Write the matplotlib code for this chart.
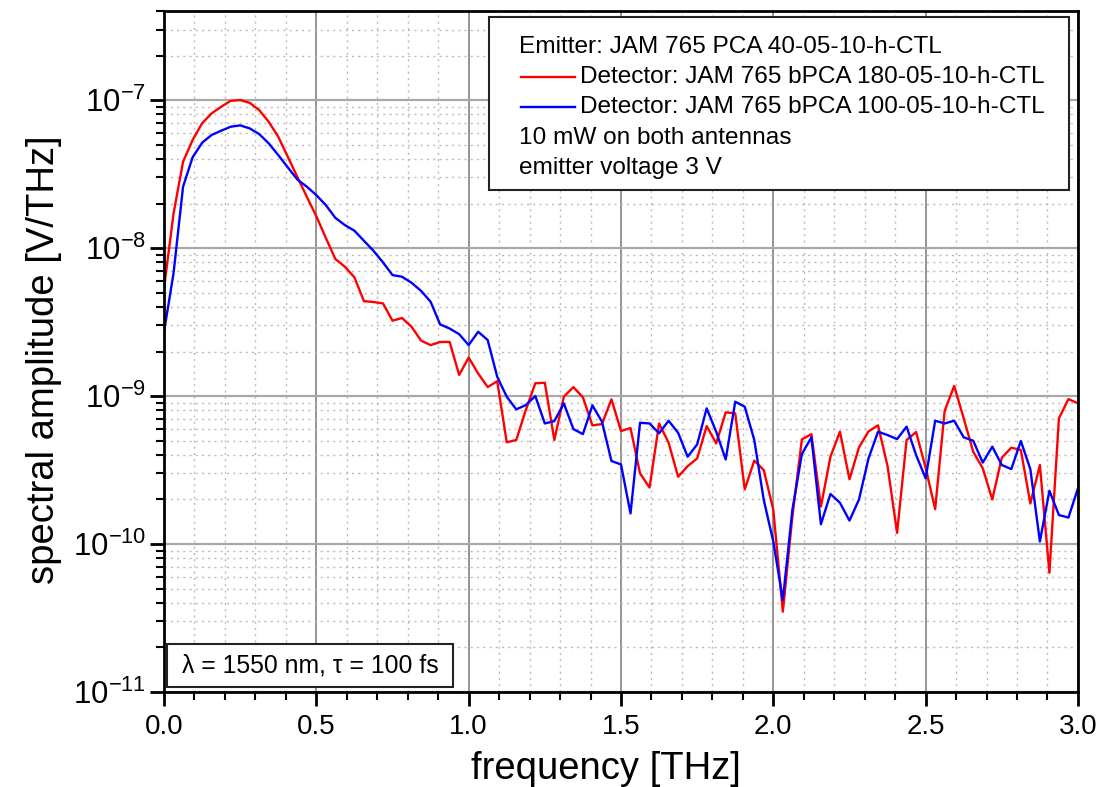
import numpy as np
import matplotlib
matplotlib.use("Agg")
import matplotlib.pyplot as plt
from matplotlib.ticker import MultipleLocator, LogLocator, FormatStrFormatter, NullFormatter
from matplotlib.patches import Rectangle
from matplotlib.lines import Line2D

plt.rcParams['font.family'] = ['Liberation Sans', 'DejaVu Sans']
plt.rcParams['mathtext.fontset'] = 'custom'
plt.rcParams['mathtext.rm'] = 'Liberation Sans'
plt.rcParams['mathtext.it'] = 'Liberation Sans:italic'
plt.rcParams['mathtext.bf'] = 'Liberation Sans:bold'

# frequency grid: step 1/32 THz, 0 .. 3 THz
freq = np.arange(97) / 32.0

# spectral amplitude [V/THz]
red_amp = [
    5.35e-9, 1.71e-8, 3.83e-8, 5.37e-8, 6.97e-8, 8.13e-8, 9.02e-8, 9.89e-8,
    1.00e-7, 9.59e-8, 8.56e-8, 7.13e-8, 5.65e-8, 4.14e-8, 3.03e-8, 2.22e-8,
    1.64e-8, 1.17e-8, 8.43e-9, 7.48e-9, 6.34e-9, 4.38e-9, 4.32e-9, 4.23e-9,
    3.23e-9, 3.37e-9, 2.94e-9, 2.37e-9, 2.21e-9, 2.32e-9, 2.32e-9, 1.39e-9,
    1.82e-9, 1.42e-9, 1.15e-9, 1.26e-9, 4.87e-10, 5.05e-10, 8.04e-10, 1.22e-9,
    1.23e-9, 5.05e-10, 9.90e-10, 1.15e-9, 9.80e-10, 6.33e-10, 6.47e-10, 9.50e-10,
    5.80e-10, 6.08e-10, 3.00e-10, 2.41e-10, 6.53e-10, 4.84e-10, 2.85e-10, 3.36e-10,
    3.79e-10, 6.27e-10, 4.79e-10, 7.76e-10, 7.64e-10, 2.34e-10, 3.66e-10, 3.16e-10,
    1.70e-10, 3.49e-11, 1.53e-10, 5.10e-10, 5.53e-10, 1.79e-10, 3.89e-10, 5.74e-10,
    2.74e-10, 4.50e-10, 5.77e-10, 6.34e-10, 3.36e-10, 1.19e-10, 5.05e-10, 5.71e-10,
    3.27e-10, 1.72e-10, 7.96e-10, 1.17e-9, 7.07e-10, 4.20e-10, 3.25e-10, 2.00e-10,
    3.83e-10, 4.48e-10, 4.32e-10, 1.88e-10, 3.42e-10, 6.40e-11, 7.07e-10, 9.54e-10,
    8.92e-10,
]

blue_amp = [
    2.72e-9, 6.75e-9, 2.60e-8, 4.10e-8, 5.15e-8, 5.81e-8, 6.21e-8, 6.61e-8,
    6.75e-8, 6.44e-8, 5.89e-8, 5.10e-8, 4.25e-8, 3.51e-8, 2.91e-8, 2.60e-8,
    2.28e-8, 1.95e-8, 1.60e-8, 1.43e-8, 1.31e-8, 1.12e-8, 9.59e-9, 8.00e-9,
    6.57e-9, 6.40e-9, 5.83e-9, 5.14e-9, 4.34e-9, 3.05e-9, 2.86e-9, 2.62e-9,
    2.21e-9, 2.72e-9, 2.39e-9, 1.35e-9, 9.90e-10, 8.13e-10, 8.69e-10, 1.00e-9,
    6.53e-10, 6.77e-10, 8.92e-10, 5.98e-10, 5.53e-10, 8.65e-10, 6.71e-10, 3.64e-10,
    3.45e-10, 1.61e-10, 6.60e-10, 6.53e-10, 5.60e-10, 6.81e-10, 5.65e-10, 3.89e-10,
    4.71e-10, 8.26e-10, 5.74e-10, 3.73e-10, 9.16e-10, 8.47e-10, 5.05e-10, 1.98e-10,
    1.04e-10, 4.19e-11, 1.70e-10, 4.06e-10, 5.26e-10, 1.36e-10, 2.18e-10, 1.90e-10,
    1.44e-10, 2.00e-10, 3.79e-10, 5.74e-10, 5.45e-10, 5.12e-10, 6.21e-10, 3.99e-10,
    2.78e-10, 6.81e-10, 6.53e-10, 6.81e-10, 5.26e-10, 4.99e-10, 3.55e-10, 4.55e-10,
    3.42e-10, 3.21e-10, 4.97e-10, 3.20e-10, 1.04e-10, 2.29e-10, 1.57e-10, 1.51e-10,
    2.38e-10,
]

legend_lines = [
    "Emitter: JAM 765 PCA 40-05-10-h-CTL",
    "Detector: JAM 765 bPCA 180-05-10-h-CTL",
    "Detector: JAM 765 bPCA 100-05-10-h-CTL",
    "10 mW on both antennas",
    "emitter voltage 3 V",
]
info_text = "\u03bb = 1550 nm, \u03c4 = 100 fs"

fig = plt.figure(figsize=(11.03, 7.87), dpi=100)
ax = fig.add_axes([0.1487, 0.1207, 0.8286, 0.8653])

ax.plot(freq, red_amp, color='#ff0000', lw=1.7, zorder=3)
ax.plot(freq, blue_amp, color='#0000ff', lw=1.7, zorder=3)

ax.set_yscale('log')
ax.set_xlim(0, 3.0)
ax.set_ylim(1e-11, 4e-7)

ax.xaxis.set_major_locator(MultipleLocator(0.5))
ax.xaxis.set_minor_locator(MultipleLocator(0.1))
ax.xaxis.set_major_formatter(FormatStrFormatter('%.1f'))
ax.yaxis.set_major_locator(LogLocator(base=10, numticks=20))
ax.yaxis.set_minor_locator(LogLocator(base=10, subs=np.arange(2, 10), numticks=20))
ax.yaxis.set_minor_formatter(NullFormatter())

ax.grid(True, which='major', axis='x', color='#8c8c8c', lw=1.3, ls='-', zorder=0)
ax.grid(True, which='major', axis='y', color='#a8a8a8', lw=1.6, ls='-', zorder=0)
ax.grid(True, which='minor', color='#bbbbbb', lw=1.0, ls=(0, (1.5, 3)), zorder=0)

ax.tick_params(which='major', direction='out', length=10, width=2)
ax.tick_params(which='minor', direction='out', length=6, width=1.5)
ax.tick_params(axis='x', which='major', labelsize=20, pad=6)
ax.tick_params(axis='y', which='major', labelsize=22.5, pad=3)
ax.tick_params(top=False, right=False)
for s in ax.spines.values():
    s.set_linewidth(2)
    s.set_zorder(5)

ax.set_xlabel('frequency [THz]', fontsize=27.5)
ax.set_ylabel('spectral amplitude [V/THz]', fontsize=27.5)
ax.xaxis.set_label_coords(0.4836, -0.087)
ax.yaxis.set_label_coords(-0.112, 0.4875)

# legend box (drawn by hand to keep the Origin-style layout)
ax.add_patch(Rectangle((0.3556, 0.7372), 0.6346, 0.254, transform=ax.transAxes,
                       fc='white', ec='#222222', lw=1.5, zorder=6))
ys = [0.9471, 0.9031, 0.8590, 0.8135, 0.7695]
colors = [None, '#ff0000', '#0000ff', None, None]
for txt, y, c in zip(legend_lines, ys, colors):
    if c is None:
        ax.text(0.3884, y, txt, transform=ax.transAxes, fontsize=17.6,
                va='center', ha='left', zorder=7)
    else:
        ax.add_line(Line2D([0.3906, 0.4497], [y, y], transform=ax.transAxes,
                           color=c, lw=1.7, zorder=7))
        ax.text(0.4551, y, txt, transform=ax.transAxes, fontsize=17.6,
                va='center', ha='left', zorder=7)

# info box bottom-left
ax.add_patch(Rectangle((0.0033, 0.0073), 0.3125, 0.0631, transform=ax.transAxes,
                       fc='white', ec='#222222', lw=1.5, zorder=6))
ax.text(0.1596, 0.0389, info_text, transform=ax.transAxes, fontsize=17.8,
        va='center', ha='center', zorder=7)

fig.savefig('out.png', dpi=100)
